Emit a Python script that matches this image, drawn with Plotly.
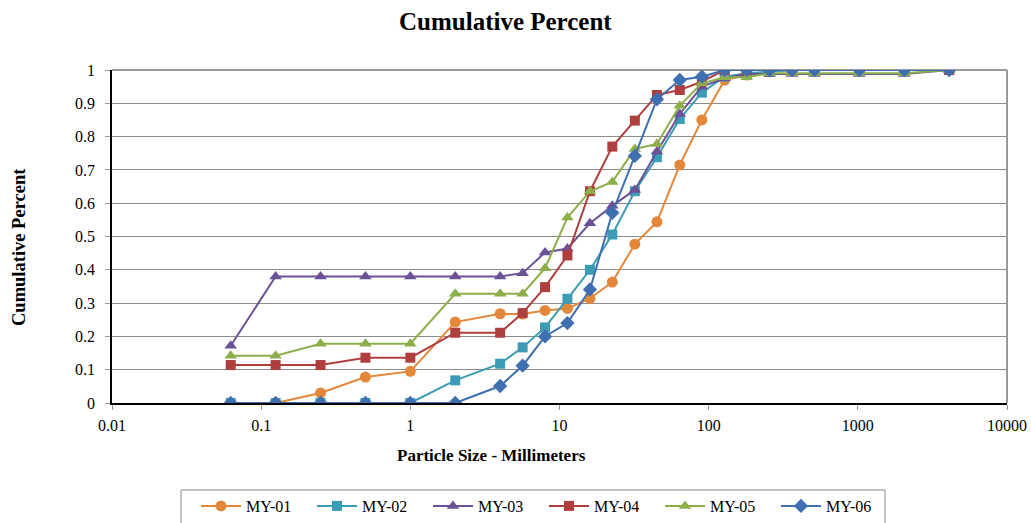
import plotly.graph_objects as go

sizes_mm = [0.0625, 0.125, 0.25, 0.5, 1, 2, 4, 5.66, 8, 11.3, 16, 22.6, 32, 45, 64, 90,
            128, 180, 256, 362, 512, 1024, 2048, 4096]

my01 = [0.0, 0.0, 0.03, 0.078, 0.095, 0.243, 0.268, 0.267, 0.278, 0.284, 0.314, 0.363, 0.477, 0.544, 0.715, 0.85,
        0.97, 0.985, 0.995, 1.0, 1.0, 1.0, 1.0, 1.0]
my02 = [0.0, 0.0, 0.0, 0.0, 0.0, 0.068, 0.118, 0.167, 0.227, 0.313, 0.4, 0.506, 0.636, 0.738, 0.853, 0.932,
        0.98, 0.99, 0.995, 1.0, 1.0, 1.0, 1.0, 1.0]
my03 = [0.172, 0.38, 0.38, 0.38, 0.38, 0.38, 0.38, 0.39, 0.452, 0.464, 0.54, 0.592, 0.64, 0.755, 0.868, 0.95,
        0.975, 0.988, 0.988, 0.988, 0.988, 0.988, 0.988, 1.0]
my04 = [0.114, 0.114, 0.114, 0.136, 0.136, 0.211, 0.211, 0.27, 0.348, 0.443, 0.636, 0.77, 0.848, 0.925, 0.94, 0.965,
        1.0, 1.0, 1.0, 1.0, 1.0, 1.0, 1.0, 1.0]
my05 = [0.142, 0.142, 0.178, 0.178, 0.178, 0.328, 0.328, 0.328, 0.405, 0.557, 0.636, 0.664, 0.763, 0.778, 0.893, 0.96,
        0.978, 0.978, 0.99, 0.99, 0.99, 0.99, 0.99, 1.0]
my06 = [0.0, 0.0, 0.0, 0.0, 0.0, 0.0, 0.051, 0.112, 0.2, 0.24, 0.341, 0.571, 0.742, 0.912, 0.97, 0.98,
        1.0, 1.0, 1.0, 1.0, 1.0, 1.0, 1.0, 1.0]

series_names = ["MY-01", "MY-02", "MY-03", "MY-04", "MY-05", "MY-06"]
series_values = [my01, my02, my03, my04, my05, my06]
colors = ["#E3873A", "#3D9CB5", "#6B5196", "#AE3F3D", "#8DAF4B", "#3F6FB0"]
symbols = ["circle", "square", "triangle-up", "square", "triangle-up", "diamond"]
msizes = [11, 10, 11, 10, 11, 11]

x_tickvals = [0.01, 0.1, 1, 10, 100, 1000, 10000]
x_ticktext = ["0.01", "0.1", "1", "10", "100", "1000", "10000"]
y_tickvals = [0, 0.1, 0.2, 0.3, 0.4, 0.5, 0.6, 0.7, 0.8, 0.9, 1]
y_ticktext = ["0", "0.1", "0.2", "0.3", "0.4", "0.5", "0.6", "0.7", "0.8", "0.9", "1"]

FONT = "Liberation Serif, Times New Roman, serif"

fig = go.Figure()
for name, vals, c, s, ms in zip(series_names, series_values, colors, symbols, msizes):
    fig.add_trace(go.Scatter(
        x=sizes_mm, y=vals, name=name, mode="lines+markers",
        line=dict(color=c, width=2),
        marker=dict(symbol=s, size=ms, color=c, line=dict(width=0)),
    ))

W, H = 1031, 523
L, R, T, B = 112, 24, 70, 120
pw, ph = W - L - R, H - T - B

def px(x):
    return (x - L) / pw

def py(y):
    return (H - B - y) / ph

fig.update_layout(
    width=W, height=H,
    margin=dict(l=L, r=R, t=T, b=B, autoexpand=False),
    paper_bgcolor="white", plot_bgcolor="white",
    font=dict(family=FONT, size=16, color="black"),
    showlegend=True,
    legend=dict(
        orientation="h", x=px(196), y=py(489), xanchor="left", yanchor="top",
        borderwidth=0, bgcolor="rgba(0,0,0,0)",
        font=dict(family=FONT, size=16, color="black"),
        entrywidth=61, entrywidthmode="pixels", itemwidth=40,
    ),
    xaxis=dict(
        type="log", range=[-2, 4],
        tickvals=x_tickvals, ticktext=x_ticktext,
        showgrid=False, zeroline=False,
        showline=True, linecolor="black", linewidth=1.5,
        ticks="outside", ticklen=5, tickcolor="#999999", tickwidth=1,
        ticklabelstandoff=2,
        tickfont=dict(family=FONT, size=16, color="black"),
    ),
    yaxis=dict(
        range=[0, 1],
        tickvals=y_tickvals, ticktext=y_ticktext,
        showgrid=True, gridcolor="#8c8c8c", gridwidth=1,
        zeroline=False,
        showline=True, linecolor="black", linewidth=1.5,
        ticks="outside", ticklen=5, tickcolor="#999999", tickwidth=1,
        ticklabelstandoff=7,
        tickfont=dict(family=FONT, size=16, color="black"),
    ),
    shapes=[
        dict(type="line", xref="paper", yref="paper", x0=0, x1=1, y0=1, y1=1,
             line=dict(color="#9a9a9a", width=2), layer="below"),
        dict(type="line", xref="paper", yref="paper", x0=1, x1=1, y0=0, y1=1,
             line=dict(color="#9a9a9a", width=2), layer="below"),
        dict(type="rect", xref="paper", yref="paper",
             x0=px(181), x1=px(885), y0=py(490), y1=py(545),
             line=dict(color="#8a8a8a", width=1), fillcolor="rgba(0,0,0,0)", layer="below"),
    ],
    annotations=[
        dict(text="<b>Cumulative Percent</b>", xref="paper", yref="paper",
             x=px(505), y=py(21), xanchor="center", yanchor="middle",
             showarrow=False, font=dict(family=FONT, size=25, color="black")),
        dict(text="<b>Particle Size - Millimeters</b>", xref="paper", yref="paper",
             x=px(491), y=py(455), xanchor="center", yanchor="middle",
             showarrow=False, font=dict(family=FONT, size=17, color="black")),
        dict(text="<b>Cumulative Percent</b>", xref="paper", yref="paper",
             x=px(19), y=py(247), xanchor="center", yanchor="middle", textangle=-90,
             showarrow=False, font=dict(family=FONT, size=18.5, color="black")),
    ],
)

fig.write_html("out.html", config={"displayModeBar": False},
               post_script="document.body.style.margin='0';document.body.style.overflow='hidden';")
